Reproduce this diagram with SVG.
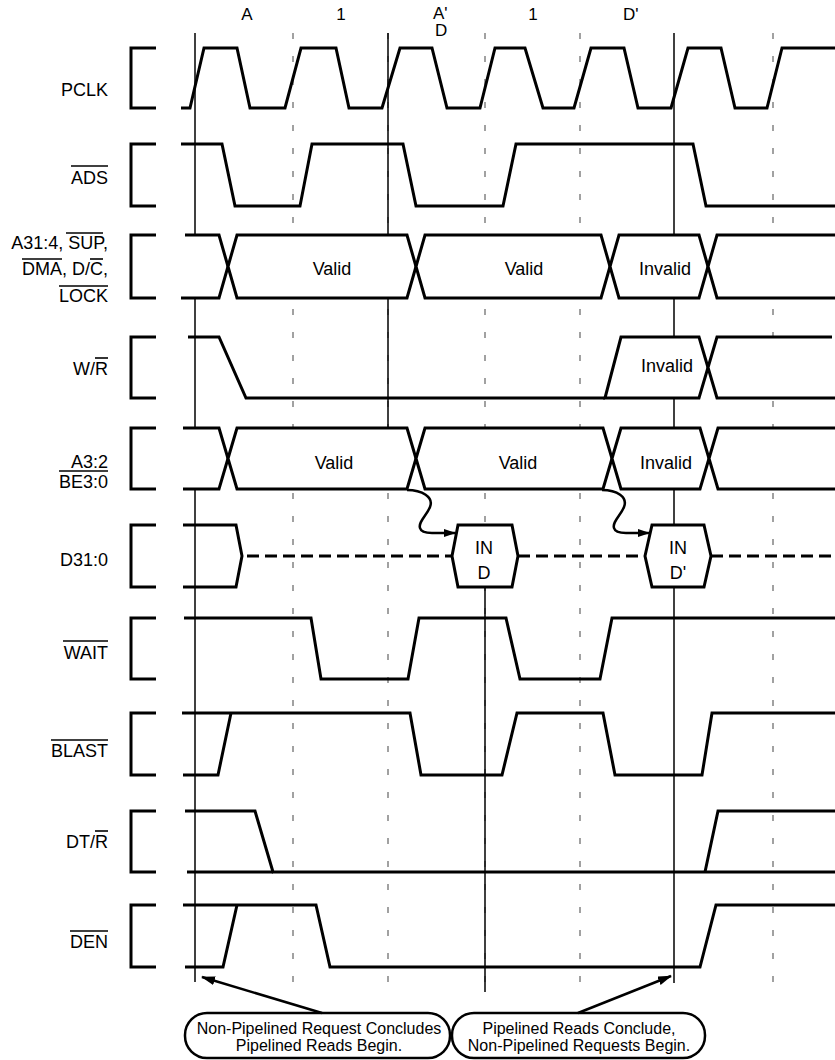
<svg xmlns="http://www.w3.org/2000/svg" width="835" height="1060" viewBox="0 0 835 1060">
<style>
text{font-family:"Liberation Sans",Arial,Helvetica,sans-serif;fill:#000}
.lbl{font-size:18px;text-anchor:end}
.top{font-size:17px}
.bx{font-size:18px;text-anchor:middle}
.co{font-size:16px;text-anchor:middle}
.w{fill:none;stroke:#000;stroke-width:3;stroke-linejoin:miter}
.wf{fill:#fff;stroke:#000;stroke-width:3}
.br{fill:none;stroke:#000;stroke-width:3}
.ob{stroke:#000;stroke-width:1.6}
.grid{stroke:#555;stroke-width:1.1;stroke-dasharray:6 17}
.sol{stroke:#000;stroke-width:1.5}
.dd{fill:none;stroke:#000;stroke-width:3;stroke-dasharray:12 6}
.arr{fill:none;stroke:#000;stroke-width:2.5}
.callout{fill:#fff;stroke:#000;stroke-width:2.5}
</style>
<defs>
<marker id="ah" viewBox="0 0 12 8" refX="11" refY="4" markerWidth="12" markerHeight="8" markerUnits="userSpaceOnUse" orient="auto">
<path d="M0,0 L12,4 L0,8 z" fill="#000"/>
</marker>
<marker id="ah2" viewBox="0 0 14 9" refX="13" refY="4.5" markerWidth="14" markerHeight="9" markerUnits="userSpaceOnUse" orient="auto">
<path d="M0,0 L14,4.5 L0,9 z" fill="#000"/>
</marker>
</defs>
<rect width="835" height="1060" fill="#fff"/>

<g id="phase-labels">
<text class="top" x="247" y="20" text-anchor="middle">A</text>
<text class="top" x="341" y="20" text-anchor="middle">1</text>
<text class="top" x="433" y="19">A'</text>
<text class="top" x="435" y="36">D</text>
<text class="top" x="533" y="20" text-anchor="middle">1</text>
<text class="top" x="623" y="20">D'</text>
</g>

<g id="grid">
<line class="grid" x1="293" y1="33" x2="293" y2="992"/>
<line class="grid" x1="388" y1="33" x2="388" y2="992"/>
<line class="grid" x1="485" y1="33" x2="485" y2="992"/>
<line class="grid" x1="580" y1="33" x2="580" y2="992"/>
<line class="grid" x1="773" y1="33" x2="773" y2="992"/>
<line class="sol" x1="195" y1="33" x2="195" y2="982"/>
<line class="sol" x1="388" y1="33" x2="388" y2="428"/>
<line class="sol" x1="485" y1="587" x2="485" y2="992"/>
<line class="sol" x1="674" y1="33" x2="674" y2="983"/>
</g>

<g id="pclk">
<path class="br" d="M156,48 H131 V108 H156"/>
<text class="lbl" x="108" y="96">PCLK</text>
<path class="w" d="M181,108 L190,108 L204,48 L237,48 L250,108 L285,108 L301,48 L336,48 L349,108 L382,108 L400,48 L432,48 L447,108 L480,108 L495,48 L525,48 L543,108 L574,108 L591,48 L624,48 L638,108 L671,108 L688,48 L721,48 L735,108 L767,108 L782,48 L835,48"/>
</g>

<g id="ads">
<path class="br" d="M156,144 H131 V206 H156"/>
<text class="lbl" x="108" y="184">ADS</text>
<line class="ob" x1="71" y1="166" x2="108" y2="166"/>
<path class="w" d="M181,144 L222,144 L235,206 L300,206 L312,144 L403,144 L416,206 L503,206 L516,144 L693,144 L706,206 L835,206"/>
</g>

<g id="addr">
<path class="br" d="M156,235 H131 V298 H156"/>
<text class="lbl" x="108" y="249">A31:4, SUP,</text>
<line class="ob" x1="66" y1="233" x2="103" y2="233"/>
<text class="lbl" x="108" y="275">DMA, D/C,</text>
<line class="ob" x1="22" y1="259" x2="62" y2="259"/>
<line class="ob" x1="90" y1="259" x2="103" y2="259"/>
<text class="lbl" x="108" y="302">LOCK</text>
<line class="ob" x1="59" y1="286" x2="108" y2="286"/>
<path class="wf" d="M185,235 L219,235 L228,266.5 L219,298 L181,298"/>
<polygon class="wf" points="228,266.5 237,235 407,235 416,266.5 407,298 237,298"/>
<polygon class="wf" points="416,266.5 425,235 601,235 610,266.5 601,298 425,298"/>
<polygon class="wf" points="610,266.5 619,235 699,235 708,266.5 699,298 619,298"/>
<path class="wf" d="M835,235 L717,235 L708,266.5 L717,298 L835,298"/>
<text class="bx" x="332" y="275">Valid</text>
<text class="bx" x="524" y="275">Valid</text>
<text class="bx" x="665" y="275">Invalid</text>
</g>

<g id="wr">
<path class="br" d="M156,337 H131 V398 H156"/>
<text class="lbl" x="108" y="375">W/R</text>
<line class="ob" x1="95" y1="358" x2="108" y2="358"/>
<path class="w" d="M188,337 L219,337 L246,398 L605,398"/>
<polygon class="wf" points="605,398 621,337 699,337 708,367.5 699,398"/>
<path class="wf" d="M832,337 L717,337 L708,367.5 L717,398 L835,398"/>
<text class="bx" x="667" y="372">Invalid</text>
</g>

<g id="a32">
<path class="br" d="M156,428 H131 V489 H156"/>
<text class="lbl" x="108" y="468">A3:2</text>
<text class="lbl" x="108" y="488">BE3:0</text>
<line class="ob" x1="59" y1="471" x2="108" y2="471"/>
<path class="wf" d="M183,428 L219,428 L228,458.5 L219,489 L183,489"/>
<polygon class="wf" points="228,458.5 237,428 407,428 416,458.5 407,489 237,489"/>
<polygon class="wf" points="416,458.5 425,428 603,428 612,458.5 603,489 425,489"/>
<polygon class="wf" points="612,458.5 621,428 700,428 709,458.5 700,489 621,489"/>
<path class="wf" d="M835,428 L718,428 L709,458.5 L718,489 L835,489"/>
<text class="bx" x="334" y="469">Valid</text>
<text class="bx" x="518" y="469">Valid</text>
<text class="bx" x="666" y="469">Invalid</text>
</g>

<g id="data">
<path class="br" d="M156,525 H131 V587 H156"/>
<text class="lbl" x="108" y="566">D31:0</text>
<path class="w" d="M183,525 L236,525 L242,556 L236,587 L183,587"/>
<line class="dd" x1="247" y1="556" x2="452" y2="556"/>
<line class="dd" x1="518" y1="556" x2="645" y2="556"/>
<line class="dd" x1="711" y1="556" x2="835" y2="556"/>
<polygon class="wf" points="452,556 458,525 512,525 518,556 512,587 458,587"/>
<polygon class="wf" points="645,556 652,525 704,525 711,556 704,587 652,587"/>
<text class="bx" x="484" y="554">IN</text>
<text class="bx" x="484" y="579">D</text>
<text class="bx" x="678" y="554">IN</text>
<text class="bx" x="678" y="579">D'</text>
</g>

<g id="wait">
<path class="br" d="M156,618 H131 V679 H156"/>
<text class="lbl" x="108" y="659">WAIT</text>
<line class="ob" x1="63" y1="641" x2="108" y2="641"/>
<path class="w" d="M184,618 L311,618 L321,679 L408,679 L419,618 L506,618 L520,679 L600,679 L612,618 L835,618"/>
</g>

<g id="blast">
<path class="br" d="M156,713 H131 V775 H156"/>
<text class="lbl" x="108" y="757">BLAST</text>
<line class="ob" x1="51" y1="740" x2="108" y2="740"/>
<path class="w" d="M182,713 L410,713 L421,775 L502,775 L517,713 L603,713 L615,775 L702,775 L712,713 L835,713"/>
<path class="w" d="M183,775 L218,775 L231,713"/>
</g>

<g id="dtr">
<path class="br" d="M156,811 H131 V872 H156"/>
<text class="lbl" x="108" y="848">DT/R</text>
<line class="ob" x1="95" y1="831" x2="108" y2="831"/>
<path class="w" d="M185,811 L255,811 L273,872 L835,872"/>
<path class="w" d="M187,872 L273,872"/>
<path class="w" d="M705,872 L718,811 L835,811"/>
</g>

<g id="den">
<path class="br" d="M156,905 H131 V967 H156"/>
<text class="lbl" x="108" y="948">DEN</text>
<line class="ob" x1="70" y1="931" x2="108" y2="931"/>
<path class="w" d="M183,905 L316,905 L330,967 L700,967 L716,905 L835,905"/>
<path class="w" d="M185,967 L223,967 L237,905"/>
</g>

<g id="callout-left">
<rect class="callout" x="185" y="1013" width="265" height="45" rx="22" ry="22"/>
<text class="co" x="319" y="1034">Non-Pipelined Request Concludes</text>
<text class="co" x="319" y="1051">Pipelined Reads Begin.</text>
</g>
<g id="callout-right">
<rect class="callout" x="452" y="1013" width="253" height="45" rx="22" ry="22"/>
<text class="co" x="579" y="1034">Pipelined Reads Conclude,</text>
<text class="co" x="579" y="1051">Non-Pipelined Requests Begin.</text>
</g>

<g id="connectors">
<path class="arr" marker-end="url(#ah)" d="M407,490 C422,490 434,497 430,507 C427,515 418,522 420,528 C421,532 425,533 432,533 L455,533"/>
<path class="arr" marker-end="url(#ah)" d="M602,490 C617,490 628,497 624,507 C621,515 612,522 614,528 C615,532 619,533 626,533 L649,533"/>
<line class="arr" x1="322" y1="1013" x2="202" y2="977" marker-end="url(#ah2)"/>
<line class="arr" x1="578" y1="1013" x2="671" y2="976" marker-end="url(#ah2)"/>
</g>
</svg>
